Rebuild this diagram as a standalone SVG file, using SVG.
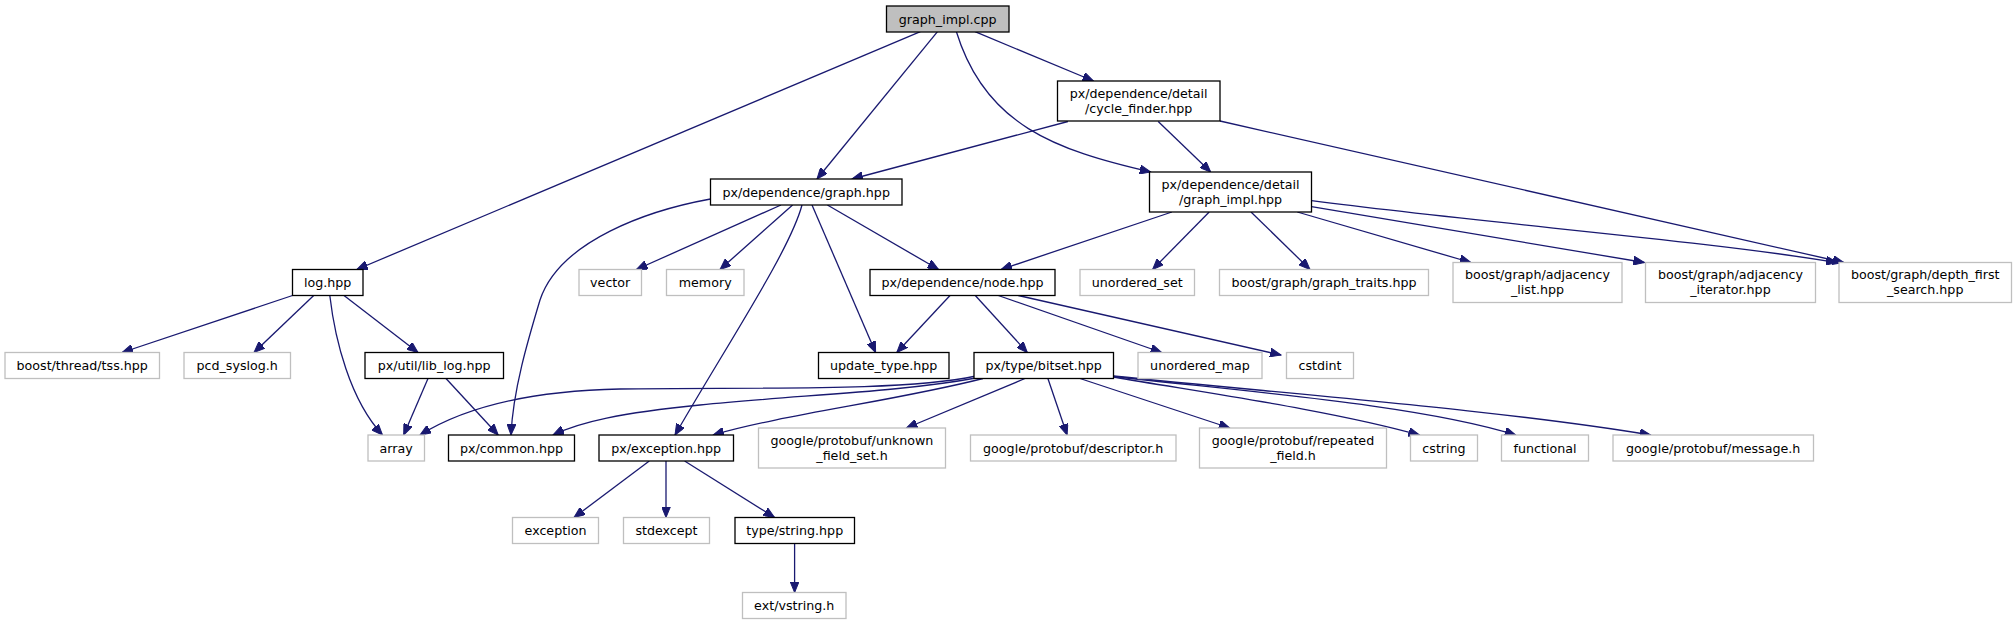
<svg xmlns="http://www.w3.org/2000/svg" width="2016" height="624" viewBox="0 0 2016 624">
<style>
.n rect{fill:#fff;stroke:#000;stroke-width:1.3}
.x rect{fill:#fff;stroke:#bfbfbf;stroke-width:1.3}
.r rect{fill:#bfbfbf;stroke:#000;stroke-width:1.3}
text{font-family:"DejaVu Sans",sans-serif;font-size:12.67px;text-anchor:middle;fill:#000}
#edges path{fill:none;stroke:#191970;stroke-width:1.3;marker-end:url(#ah)}
</style>
<defs>
<marker id="ah" markerUnits="userSpaceOnUse" markerWidth="12" markerHeight="9" refX="11" refY="4.5" orient="auto">
<path d="M0,0 L11,4.5 L0,9 z" fill="#191970" stroke="#191970" stroke-width="1"/>
</marker>
</defs>
<rect width="2016" height="624" fill="#fff"/>
<g id="edges">
<path d="M920.4,31.7 L356.8,269.5"/>
<path d="M937.5,31.7 L817,179"/>
<path d="M956.4,31.7 C985,125 1055,150 1150.7,172"/>
<path d="M975,31.7 L1093.5,81"/>
<path d="M1067.9,121.5 L852,179"/>
<path d="M1158.2,121.5 L1210.7,172"/>
<path d="M1220,121 L1843.7,262.5"/>
<path d="M710.5,199 C650,210 560,240 540,300 C528,340 513,390 511,435"/>
<path d="M781,205 L636.4,269.5"/>
<path d="M792.6,205 L720,269.5"/>
<path d="M802,205 C790,250 730,340 675,435"/>
<path d="M812,205 L875.6,352.5"/>
<path d="M827.4,205 L938.6,269.5"/>
<path d="M1171.9,212 L1001,269.5"/>
<path d="M1209.2,212 L1152.6,269.5"/>
<path d="M1251,212 L1310,269.5"/>
<path d="M1297.3,212 L1470.8,262.5"/>
<path d="M1311.5,206.7 L1644.4,262.5"/>
<path d="M1311.5,200.7 C1500,225 1700,240 1837,262.5"/>
<path d="M292.5,295.5 L122,352.5"/>
<path d="M313.7,295.5 L254,352.5"/>
<path d="M329.8,295.5 C335,340 350,400 382.5,435"/>
<path d="M344,295.5 L418,352.5"/>
<path d="M428,378.5 L403.7,435"/>
<path d="M446,378.5 L498.2,435"/>
<path d="M950,295.5 L896.8,352.5"/>
<path d="M975.3,295.5 L1027.3,352.5"/>
<path d="M998.3,295.5 L1161.7,352.5"/>
<path d="M1018.3,295.5 L1281,355"/>
<path d="M976,376 C900,392 750,387 620,389 C520,391 460,410 420,435"/>
<path d="M976,378 C900,392 800,395 700,405 C620,413 580,422 553,435"/>
<path d="M983,378.5 C900,400 780,415 713,435"/>
<path d="M1025,378.5 L906.4,428"/>
<path d="M1047.9,378.5 L1067.1,435"/>
<path d="M1080,378.5 L1229.8,428"/>
<path d="M1113.5,377 C1200,392 1330,410 1419.4,435"/>
<path d="M1113.5,376.5 C1250,392 1420,405 1515.8,435"/>
<path d="M1113.5,376 C1300,395 1500,410 1650.8,435"/>
<path d="M649.3,461 L574,517.5"/>
<path d="M666,461 L666,517.5"/>
<path d="M684.6,461 L774.6,517.5"/>
<path d="M794.6,543.5 L794.6,592.5"/>
</g>
<g id="n_root" class="r"><rect x="886.5" y="6" width="122.5" height="26"/><text x="947.7" y="23.5">graph_impl.cpp</text></g>
<g id="n_cycle" class="n"><rect x="1057.5" y="81" width="162.5" height="40"/><text x="1138.7" y="97.5">px/dependence/detail</text><text x="1138.7" y="112.5">/cycle_finder.hpp</text></g>
<g id="n_graph" class="n"><rect x="710.5" y="179" width="191.5" height="26"/><text x="806.2" y="196.5">px/dependence/graph.hpp</text></g>
<g id="n_gimpl" class="n"><rect x="1149.5" y="172" width="162" height="40"/><text x="1230.5" y="188.5">px/dependence/detail</text><text x="1230.5" y="203.5">/graph_impl.hpp</text></g>
<g id="n_log" class="n"><rect x="292.5" y="269.5" width="70.5" height="26"/><text x="327.7" y="287">log.hpp</text></g>
<g id="n_vector" class="x"><rect x="579" y="269.5" width="62.5" height="26"/><text x="610.2" y="287">vector</text></g>
<g id="n_memory" class="x"><rect x="666.5" y="269.5" width="77.5" height="26"/><text x="705.2" y="287">memory</text></g>
<g id="n_node" class="n"><rect x="870" y="269.5" width="185" height="26"/><text x="962.5" y="287">px/dependence/node.hpp</text></g>
<g id="n_uset" class="x"><rect x="1080" y="269.5" width="114.5" height="26"/><text x="1137.2" y="287">unordered_set</text></g>
<g id="n_traits" class="x"><rect x="1219.5" y="269.5" width="209" height="26"/><text x="1324" y="287">boost/graph/graph_traits.hpp</text></g>
<g id="n_adjlist" class="x"><rect x="1453" y="262.5" width="169" height="40"/><text x="1537.5" y="279">boost/graph/adjacency</text><text x="1537.5" y="294">_list.hpp</text></g>
<g id="n_adjiter" class="x"><rect x="1645.5" y="262.5" width="170" height="40"/><text x="1730.5" y="279">boost/graph/adjacency</text><text x="1730.5" y="294">_iterator.hpp</text></g>
<g id="n_dfs" class="x"><rect x="1839" y="262.5" width="172.5" height="40"/><text x="1925.2" y="279">boost/graph/depth_first</text><text x="1925.2" y="294">_search.hpp</text></g>
<g id="n_tss" class="x"><rect x="5" y="352.5" width="154.5" height="26"/><text x="82.2" y="370">boost/thread/tss.hpp</text></g>
<g id="n_syslog" class="x"><rect x="184" y="352.5" width="106.5" height="26"/><text x="237.2" y="370">pcd_syslog.h</text></g>
<g id="n_liblog" class="n"><rect x="365" y="352.5" width="138.5" height="26"/><text x="434.2" y="370">px/util/lib_log.hpp</text></g>
<g id="n_update" class="n"><rect x="818.5" y="352.5" width="130.5" height="26"/><text x="883.7" y="370">update_type.hpp</text></g>
<g id="n_bitset" class="n"><rect x="974" y="352.5" width="139.5" height="26"/><text x="1043.7" y="370">px/type/bitset.hpp</text></g>
<g id="n_umap" class="x"><rect x="1138" y="352.5" width="124" height="26"/><text x="1200" y="370">unordered_map</text></g>
<g id="n_cstdint" class="x"><rect x="1286.5" y="352.5" width="67" height="26"/><text x="1320" y="370">cstdint</text></g>
<g id="n_array" class="x"><rect x="368" y="435" width="56.5" height="26"/><text x="396.2" y="452.5">array</text></g>
<g id="n_common" class="n"><rect x="448.5" y="435" width="126" height="26"/><text x="511.5" y="452.5">px/common.hpp</text></g>
<g id="n_exc" class="n"><rect x="599" y="435" width="134.5" height="26"/><text x="666.2" y="452.5">px/exception.hpp</text></g>
<g id="n_unknown" class="x"><rect x="758.5" y="428" width="187" height="40"/><text x="852" y="444.5">google/protobuf/unknown</text><text x="852" y="459.5">_field_set.h</text></g>
<g id="n_desc" class="x"><rect x="970.5" y="435" width="205.5" height="26"/><text x="1073.2" y="452.5">google/protobuf/descriptor.h</text></g>
<g id="n_rep" class="x"><rect x="1199.5" y="428" width="187" height="40"/><text x="1293" y="444.5">google/protobuf/repeated</text><text x="1293" y="459.5">_field.h</text></g>
<g id="n_cstring" class="x"><rect x="1410.5" y="435" width="67" height="26"/><text x="1444" y="452.5">cstring</text></g>
<g id="n_func" class="x"><rect x="1501.5" y="435" width="87" height="26"/><text x="1545" y="452.5">functional</text></g>
<g id="n_msg" class="x"><rect x="1613" y="435" width="200.5" height="26"/><text x="1713.2" y="452.5">google/protobuf/message.h</text></g>
<g id="n_exception" class="x"><rect x="512.5" y="517.5" width="86" height="26"/><text x="555.5" y="535">exception</text></g>
<g id="n_stdexcept" class="x"><rect x="623.5" y="517.5" width="86" height="26"/><text x="666.5" y="535">stdexcept</text></g>
<g id="n_string" class="n"><rect x="735" y="517.5" width="119.5" height="26"/><text x="794.7" y="535">type/string.hpp</text></g>
<g id="n_vstring" class="x"><rect x="742.5" y="592.5" width="103.5" height="26"/><text x="794.2" y="610">ext/vstring.h</text></g>
</svg>
